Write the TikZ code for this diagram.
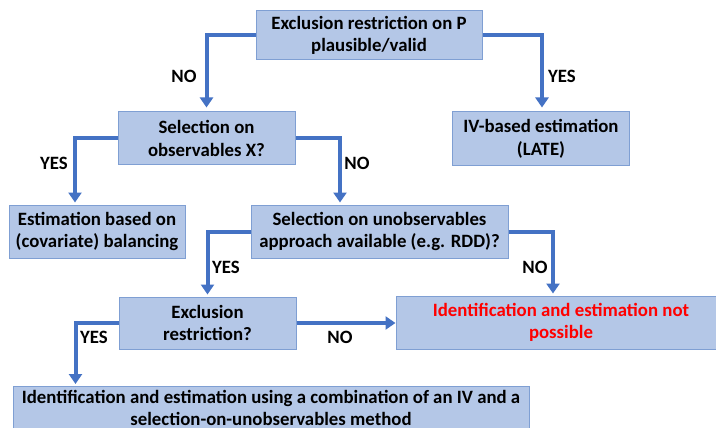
\documentclass[tikz,border=0pt]{standalone}
\usepackage{fontspec}
\setmainfont{Carlito}
\usetikzlibrary{arrows.meta}
\definecolor{boxfill}{HTML}{B4C7E7}
\definecolor{boxline}{HTML}{7F9FD3}
\definecolor{arrowblue}{HTML}{4472C4}
\definecolor{warnred}{HTML}{FF0000}
\tikzset{
  box/.style={draw=boxline, line width=1pt, fill=boxfill, align=center, inner sep=2pt,
    font=\fontsize{18.8}{22.5}\selectfont\bfseries},
  conn/.style={draw=arrowblue, line width=4pt, -{Triangle[width=13pt,length=10pt]}},
  lbl/.style={font=\fontsize{18.8}{22.5}\selectfont\bfseries, inner sep=0pt}
}
\begin{document}
\begin{tikzpicture}[x=1pt,y=-1pt]
\useasboundingbox (0,0) rectangle (716,428);
\clip (0,0) rectangle (716,428);
\node[box, minimum width=226pt, minimum height=49pt] (b1) at (369,35.5) {Exclusion restriction on P\\plausible/valid};
\node[box, minimum width=177pt, minimum height=53pt] (b2) at (206.5,138.5) {Selection on\\observables X?};
\node[box, minimum width=177pt, minimum height=54pt] (b3) at (541,139) {IV-based estimation\\(LATE)};
\node[box, minimum width=176pt, minimum height=53pt] (b4) at (97,231.5) {Estimation based on\\(covariate) balancing};
\node[box, minimum width=257pt, minimum height=53pt] (b5) at (379.5,231.5) {Selection on unobservables\\approach available (e.g. RDD)?};
\node[box, minimum width=177pt, minimum height=52pt] (b6) at (207.5,323) {Exclusion\\restriction?};
\node[box, minimum width=330pt, minimum height=53pt, text=warnred] (b7) at (561,322.5) {Identification and estimation not\\possible};
\node[box, minimum width=516pt, minimum height=43pt, inner sep=0pt] (b8) at (271,408) {Identification and estimation using a combination of an IV and a\\selection-on-unobservables method};

\draw[conn, shorten >=4pt] (b1.west) -| (b2.north);
\draw[conn, shorten >=4pt] (b1.east) -| ([xshift=1pt]b3.north);
\draw[conn, shorten >=2pt] (b2.west) -| ([xshift=-22pt]b4.north);
\draw[conn, shorten >=2pt] (b2.east) -| ([xshift=-39.5pt]b5.north);
\draw[conn, shorten >=2pt] (b5.west) -| (b6.north);
\draw[conn, shorten >=2pt] (b5.east) -| ([xshift=-8pt]b7.north);
\draw[conn, shorten >=2pt] (b6.west) -| ([xshift=63pt]b8.north west);
\draw[conn] (b6.east) -- (b6.east -| b7.west);

\node[lbl] (l1) at (184,76) {NO};
\node[lbl] (l2) at (562,76) {YES};
\node[lbl] (l3) at (54,163) {YES};
\node[lbl] (l4) at (357,163) {NO};
\node[lbl] (l5) at (226,267) {YES};
\node[lbl] (l6) at (535,267) {NO};
\node[lbl] (l7) at (94,337) {YES};
\node[lbl] (l8) at (340,337) {NO};
\end{tikzpicture}
\end{document}
